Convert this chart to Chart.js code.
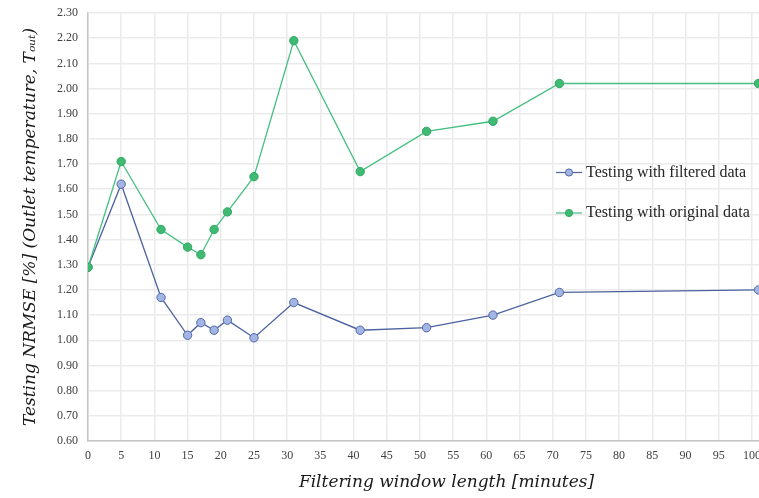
<!DOCTYPE html>
<html>
<head>
<meta charset="utf-8">
<script src="https://cdn.jsdelivr.net/npm/chart.js@4/dist/chart.umd.min.js"></script>
<style>
  html, body { margin: 0; padding: 0; background: #fff; overflow: hidden; width: 759px; height: 498px; }
  #marco { position: relative; width: 820px; height: 498px; }
</style>
</head>
<body>
<div id="marco"><canvas id="graficoNrmse" width="820" height="498"></canvas></div>
<script>
// datos
const windowLengths = [0, 5, 11, 15, 17, 19, 21, 25, 31, 41, 51, 61, 71, 101];
const filteredNrmse = [1.29, 1.62, 1.17, 1.02, 1.07, 1.04, 1.08, 1.01, 1.15, 1.04, 1.05, 1.10, 1.19, 1.20];
const originalNrmse = [1.29, 1.71, 1.44, 1.37, 1.34, 1.44, 1.51, 1.65, 2.19, 1.67, 1.83, 1.87, 2.02, 2.02];
const seriesNames = ['Testing with filtered data', 'Testing with original data'];
const xTitle = 'Filtering window length [minutes]';
const yTitle = 'Testing NRMSE [%] (Outlet temperature, Tₒᵤₜ)';

const puntos = valores => windowLengths.map((x, i) => ({ x: x, y: valores[i] }));

// leyenda dibujada dentro del area del grafico
const leyendaInterna = {
  id: 'leyendaInterna',
  afterDraw(chart) {
    const ctx = chart.ctx;
    const filas = [
      { ds: chart.data.datasets[0], y: 172.5 },
      { ds: chart.data.datasets[1], y: 213 }
    ];
    ctx.save();
    filas.forEach(f => {
      ctx.strokeStyle = f.ds.borderColor;
      ctx.lineWidth = 1.2;
      ctx.beginPath();
      ctx.moveTo(556, f.y);
      ctx.lineTo(582, f.y);
      ctx.stroke();
      ctx.beginPath();
      ctx.arc(569, f.y, 3.6, 0, Math.PI * 2);
      ctx.fillStyle = f.ds.pointBackgroundColor;
      ctx.fill();
      ctx.strokeStyle = f.ds.pointBorderColor;
      ctx.lineWidth = 1;
      ctx.stroke();
      ctx.fillStyle = '#262626';
      ctx.font = '16px "Liberation Serif"';
      ctx.textBaseline = 'middle';
      ctx.fillText(f.ds.label, 586, f.y);
    });
    ctx.restore();
  }
};

new Chart(document.getElementById('graficoNrmse').getContext('2d'), {
  type: 'line',
  data: {
    datasets: [{
      label: seriesNames[0],
      data: puntos(filteredNrmse),
      borderColor: '#4d62a0',
      borderWidth: 1.3,
      pointBackgroundColor: '#a3b5e3',
      pointBorderColor: '#5068aa',
      pointBorderWidth: 1,
      pointRadius: 4.2,
      tension: 0,
      order: 1
    }, {
      label: seriesNames[1],
      data: puntos(originalNrmse),
      borderColor: '#45bf80',
      borderWidth: 1.3,
      pointBackgroundColor: '#3fba72',
      pointBorderColor: '#2fa862',
      pointBorderWidth: 1,
      pointRadius: 4.2,
      tension: 0,
      order: 0
    }]
  },
  options: {
    responsive: false,
    animation: false,
    layout: { padding: { top: 13, right: 15, left: 0, bottom: 0 } },
    plugins: {
      legend: { display: false },
      tooltip: { enabled: false }
    },
    scales: {
      x: {
        type: 'linear',
        min: 0,
        max: 108,
        afterFit: s => { s.height = 57; },
        afterBuildTicks: s => { s.ticks = s.ticks.filter(t => t.value % 5 === 0); },
        grid: { color: '#ebebeb', lineWidth: 1.5, drawTicks: false },
        border: { color: '#c6c6c6', width: 1.5 },
        ticks: {
          stepSize: 5,
          padding: 8,
          color: '#404040',
          font: { family: 'Liberation Serif', size: 12 },
          maxRotation: 0,
          autoSkip: false
        },
        title: {
          display: true,
          text: xTitle,
          color: '#1a1a1a',
          font: { family: 'DejaVu Serif', style: 'italic', size: 17 },
          padding: { top: 0, bottom: 5 }
        }
      },
      y: {
        min: 0.6,
        max: 2.3,
        afterFit: s => { s.width = 88; s.paddingTop = 0; s.paddingBottom = 0; },
        grid: { color: '#ebebeb', lineWidth: 1.5, drawTicks: false },
        border: { color: '#c6c6c6', width: 1.5 },
        ticks: {
          stepSize: 0.1,
          padding: 10,
          color: '#404040',
          font: { family: 'Liberation Serif', size: 12 },
          callback: v => v.toFixed(2)
        },
        title: {
          display: true,
          text: yTitle,
          color: '#1a1a1a',
          font: { family: 'DejaVu Serif', style: 'italic', size: 17 },
          padding: { top: 20, bottom: 0 }
        }
      }
    }
  },
  plugins: [leyendaInterna]
});
</script>
</body>
</html>
